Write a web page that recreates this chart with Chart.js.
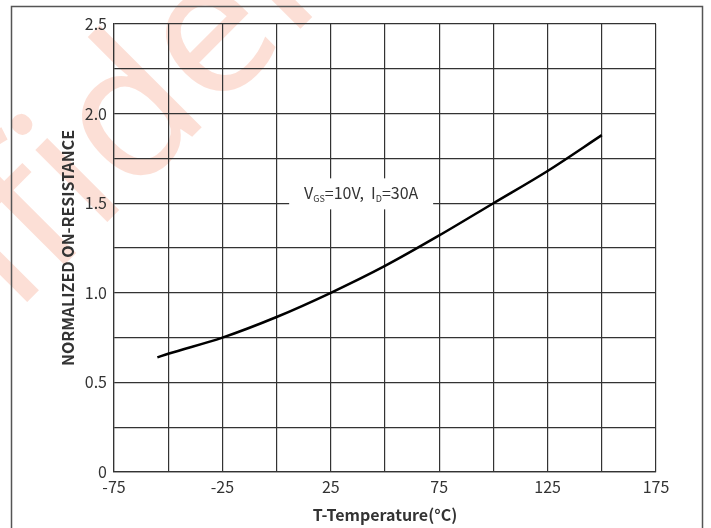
<!DOCTYPE html>
<html>
<head>
<meta charset="utf-8">
<script src="https://cdn.jsdelivr.net/npm/chart.js@4/dist/chart.umd.min.js"></script>
<style>
    html, body { margin: 0; padding: 0; background: #fff; }
    #wrap { width: 711px; height: 528px; }
</style>
</head>
<body>
<div id="wrap"><canvas id="resistanceChart" width="711" height="528"></canvas></div>
<script>
// ---------- data ----------
const temperatures = [-55, -50, -25, 0, 25, 50, 75, 100, 125, 150];
const resistance = [0.64, 0.66, 0.75, 0.865, 1.0, 1.15, 1.32, 1.50, 1.68, 1.88];
const xLabels = [-75, -25, 25, 75, 125, 175];
const yLabels = [0, 0.5, 1.0, 1.5, 2.0, 2.5];
const noteX = 39;
const noteY = 1.555;

const fontName = '"Noto Sans CJK SC", "Noto Sans", sans-serif';
const tickFont = { family: fontName, size: 16 };
const titleFont = { family: fontName, size: 16, weight: 'bold' };

// white page, watermark and outer frame
const backgroundPlugin = {
    id: 'backgroundPlugin',
    beforeDraw(chart) {
        const ctx = chart.ctx;
        ctx.save();
        ctx.fillStyle = '#fff';
        ctx.fillRect(0, 0, chart.width, chart.height);

        ctx.font = '190px "Noto Sans"';
        ctx.fillStyle = 'rgba(240, 110, 70, 0.22)';
        const before = ctx.measureText('Confid').width;
        const eWidth = ctx.measureText('e').width;
        ctx.translate(215, 42);
        ctx.rotate(-45 * Math.PI / 180);
        ctx.textBaseline = 'alphabetic';
        ctx.fillText('Confidential', -(before + eWidth / 2), 51);
        ctx.restore();

        ctx.save();
        ctx.strokeStyle = '#555';
        ctx.lineWidth = 1.5;
        ctx.strokeRect(11.5, 6.5, 691, 540);
        ctx.restore();
    }
};

// condition label with a white box over the grid
const notePlugin = {
    id: 'notePlugin',
    afterDatasetsDraw(chart) {
        const ctx = chart.ctx;
        const cx = chart.scales.x.getPixelForValue(noteX);
        const cy = chart.scales.y.getPixelForValue(noteY);
        const parts = [
            ['V', 16, 0], ['GS', 9, 3], ['=10V,  I', 16, 0], ['D', 9, 3], ['=30A', 16, 0]
        ];
        let total = 0;
        parts.forEach(p => {
            ctx.font = p[1] + 'px ' + fontName;
            total += ctx.measureText(p[0]).width;
        });
        ctx.save();
        ctx.fillStyle = '#fff';
        ctx.fillRect(cx - 72, cy - 15, 144, 31);
        ctx.fillStyle = '#333';
        ctx.textBaseline = 'alphabetic';
        let x = cx - total / 2;
        parts.forEach(p => {
            ctx.font = p[1] + 'px ' + fontName;
            ctx.fillText(p[0], x, cy + 6 + p[2]);
            x += ctx.measureText(p[0]).width;
        });
        ctx.restore();
    }
};

new Chart(document.getElementById('resistanceChart'), {
    type: 'line',
    data: {
        datasets: [{
            data: temperatures.map((t, i) => ({ x: t, y: resistance[i] })),
            borderColor: '#000',
            borderWidth: 2.5,
            pointRadius: 0,
            cubicInterpolationMode: 'monotone',
            fill: false
        }]
    },
    options: {
        responsive: false,
        animation: false,
        devicePixelRatio: 1,
        layout: { padding: { left: 0, right: 55, top: 24, bottom: 0 } },
        plugins: { legend: { display: false }, tooltip: { enabled: false } },
        scales: {
            x: {
                type: 'linear',
                min: -75,
                max: 175,
                afterFit: (scale) => { scale.height = 56; },
                afterBuildTicks: (scale) => {
                    const t = [];
                    for (let v = -75; v <= 175; v += 25) t.push({ value: v });
                    scale.ticks = t;
                },
                ticks: {
                    autoSkip: false,
                    maxRotation: 0,
                    padding: 5,
                    color: '#333',
                    font: tickFont,
                    callback: (v) => xLabels.includes(v) ? String(v) : ''
                },
                grid: { color: '#333', lineWidth: 1.2, drawTicks: false },
                border: { color: '#333', width: 1.2 },
                title: {
                    display: true,
                    text: 'T-Temperature(°C)',
                    color: '#333',
                    font: titleFont,
                    padding: { top: 0, bottom: 3 }
                }
            },
            y: {
                min: 0,
                max: 2.5,
                afterFit: (scale) => { scale.width = 114; },
                afterBuildTicks: (scale) => {
                    const t = [];
                    for (let v = 0; v <= 2.5001; v += 0.25) t.push({ value: Math.round(v * 100) / 100 });
                    scale.ticks = t;
                },
                ticks: {
                    autoSkip: false,
                    padding: 7,
                    color: '#333',
                    font: tickFont,
                    callback: (v) => {
                        if (!yLabels.includes(v)) return '';
                        return v === 0 ? '0' : v.toFixed(1);
                    }
                },
                grid: { color: '#333', lineWidth: 1.2, drawTicks: false },
                border: { color: '#333', width: 1.2 },
                title: {
                    display: true,
                    text: 'NORMALIZED ON-RESISTANCE',
                    color: '#333',
                    font: titleFont,
                    padding: { top: 58, bottom: 0 }
                }
            }
        }
    },
    plugins: [backgroundPlugin, notePlugin]
});
</script>
</body>
</html>
